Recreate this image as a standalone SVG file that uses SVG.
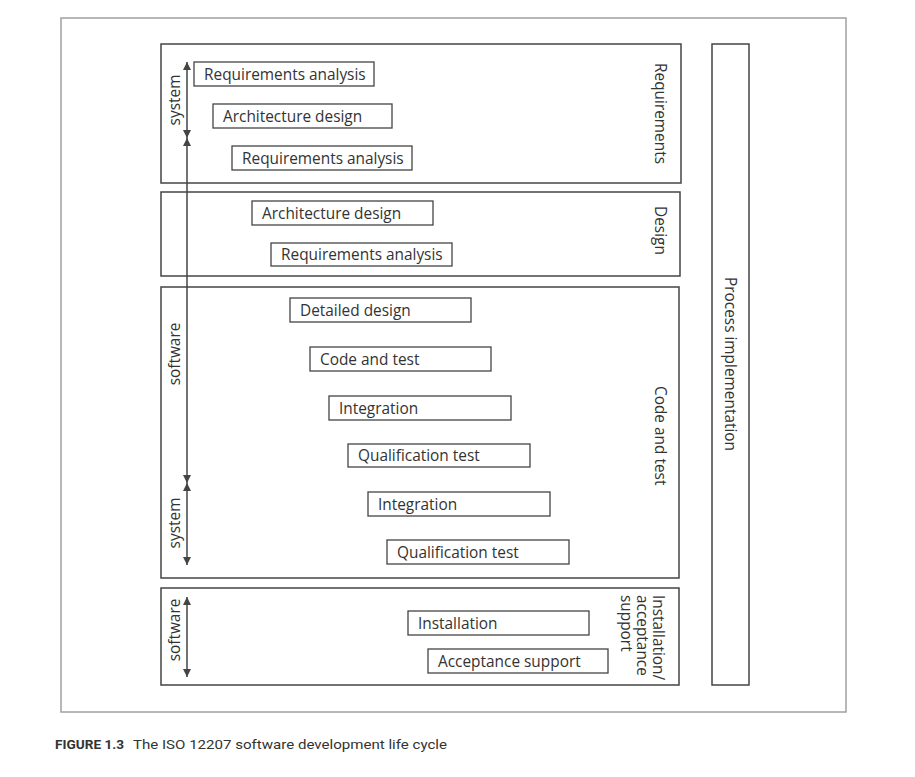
<svg xmlns="http://www.w3.org/2000/svg" width="915" height="777" viewBox="0 0 915 777">
<defs>
<marker id="ah" viewBox="0 0 10 10" refX="10" refY="5" markerWidth="8" markerHeight="8" orient="auto-start-reverse" markerUnits="userSpaceOnUse">
<path d="M0,0 L10,5 L0,10 z" fill="#444"/>
</marker>
<style>
.frame{fill:none;stroke:#a0a0a0;stroke-width:1.5}
.phase{fill:#fff;stroke:#444;stroke-width:1.5}
.task{fill:#fff;stroke:#444;stroke-width:1.3}
.t{font-family:"Open Sans","Liberation Sans",sans-serif;font-size:15.4px;fill:#333}
.arr{stroke:#444;stroke-width:1.5;fill:none;marker-start:url(#ah);marker-end:url(#ah)}
.cap{font-family:"Roboto","Liberation Sans",sans-serif;font-size:13.5px;fill:#333}
</style>
</defs>
<rect width="915" height="777" fill="#fff"/>
<rect class="frame" x="61" y="18" width="785" height="694"/>

<g id="phase-requirements">
<rect class="phase" x="161" y="44" width="520" height="139"/>
<text class="t" transform="translate(655,63) rotate(90)">Requirements</text>
</g>
<g id="phase-design">
<rect class="phase" x="161" y="192" width="519" height="84"/>
<text class="t" transform="translate(655,206) rotate(90)">Design</text>
</g>
<g id="phase-code">
<rect class="phase" x="161" y="287" width="518" height="291"/>
<text class="t" transform="translate(655,386) rotate(90)">Code and test</text>
</g>
<g id="phase-install">
<rect class="phase" x="161" y="588" width="518" height="97"/>
<text class="t" transform="translate(653,595) rotate(90)"><tspan x="0" y="0">Installation/</tspan><tspan x="0" y="16">acceptance</tspan><tspan x="0" y="32">support</tspan></text>
</g>
<g id="process-implementation">
<rect class="phase" x="712" y="44" width="37" height="641"/>
<text class="t" transform="translate(725,277) rotate(90)">Process implementation</text>
</g>

<g id="task1"><rect class="task" x="194" y="62" width="180" height="24"/><text class="t" x="204" y="79.5">Requirements analysis</text></g>
<g id="task2"><rect class="task" x="213" y="104" width="179" height="24"/><text class="t" x="223" y="121.5">Architecture design</text></g>
<g id="task3"><rect class="task" x="232" y="146" width="180" height="24"/><text class="t" x="242" y="163.5">Requirements analysis</text></g>
<g id="task4"><rect class="task" x="252" y="201" width="181" height="24"/><text class="t" x="262" y="218.5">Architecture design</text></g>
<g id="task5"><rect class="task" x="271" y="243" width="181" height="23"/><text class="t" x="281" y="260">Requirements analysis</text></g>
<g id="task6"><rect class="task" x="290" y="298" width="181" height="24"/><text class="t" x="300" y="315.5">Detailed design</text></g>
<g id="task7"><rect class="task" x="310" y="347" width="181" height="24"/><text class="t" x="320" y="364.5">Code and test</text></g>
<g id="task8"><rect class="task" x="329" y="396" width="182" height="24"/><text class="t" x="339" y="413.5">Integration</text></g>
<g id="task9"><rect class="task" x="348" y="444" width="182" height="23"/><text class="t" x="358" y="461">Qualification test</text></g>
<g id="task10"><rect class="task" x="368" y="492" width="182" height="24"/><text class="t" x="378" y="509.5">Integration</text></g>
<g id="task11"><rect class="task" x="387" y="540" width="182" height="24"/><text class="t" x="397" y="557.5">Qualification test</text></g>
<g id="task12"><rect class="task" x="408" y="611" width="181" height="24"/><text class="t" x="418" y="628.5">Installation</text></g>
<g id="task13"><rect class="task" x="428" y="649" width="180" height="24"/><text class="t" x="438" y="666.5">Acceptance support</text></g>

<g id="connectors">
<line class="arr" x1="187" y1="62" x2="187" y2="138"/>
<line class="arr" x1="187" y1="138" x2="187" y2="483"/>
<line class="arr" x1="187" y1="483" x2="187" y2="565"/>
<line class="arr" x1="187" y1="597" x2="187" y2="677"/>
</g>

<g id="scope-labels">
<text class="t" text-anchor="middle" transform="translate(180,100) rotate(-90)">system</text>
<text class="t" text-anchor="middle" transform="translate(180,354) rotate(-90)">software</text>
<text class="t" text-anchor="middle" transform="translate(180,523) rotate(-90)">system</text>
<text class="t" text-anchor="middle" transform="translate(180,630) rotate(-90)">software</text>
</g>

<text class="cap" x="55" y="749"><tspan font-weight="bold" textLength="69" lengthAdjust="spacingAndGlyphs">FIGURE 1.3</tspan><tspan x="133" textLength="314" lengthAdjust="spacingAndGlyphs">The ISO 12207 software development life cycle</tspan></text>
</svg>
